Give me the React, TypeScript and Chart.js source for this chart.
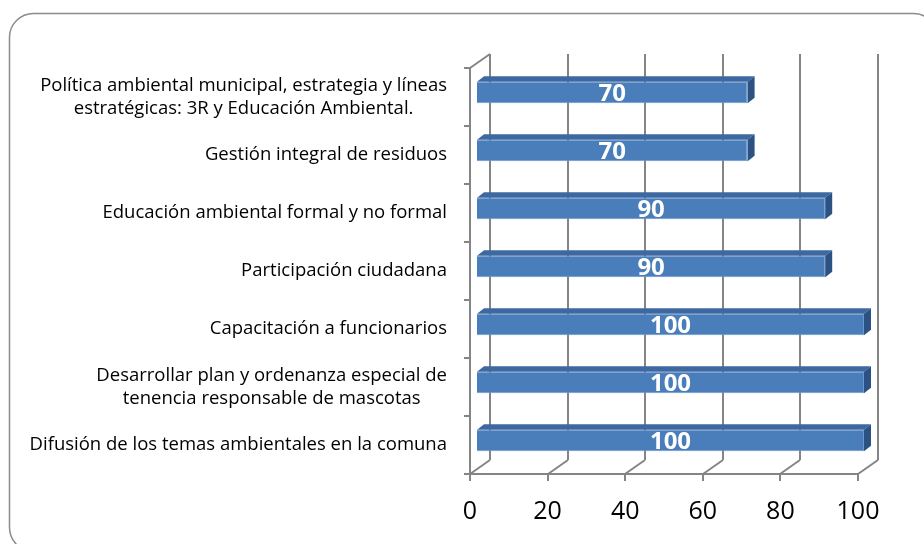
import React, { useEffect, useRef } from "react";
import { Chart, registerables } from "chart.js";

Chart.register(...registerables);

const categories: string[][] = [
  ["Política ambiental municipal, estrategia y líneas", "estratégicas: 3R y Educación Ambiental."],
  ["Gestión integral de residuos"],
  ["Educación ambiental formal y no formal"],
  ["Participación ciudadana"],
  ["Capacitación a funcionarios"],
  ["Desarrollar plan y ordenanza especial de", "tenencia responsable de mascotas"],
  ["Difusión de los temas ambientales en la comuna"],
];
const values: number[] = [70, 70, 90, 90, 100, 100, 100];
const xTicks: number[] = [0, 20, 40, 60, 80, 100];

const GRID = "#858585";
const FRONT = "#4a7ebb";
const TOP = "#3d68a0";
const SIDE = "#2c5283";
const WALL_DX = 20;
const WALL_DY = 14;
const BAR_SHIFT_X = 6;
const BAR_SHIFT_Y = -4.5;
const BAR_DX = 7;
const BAR_DY = 5.5;
const CAT_FONT = "18.5px 'Open Sans'";
const CAT_LINE = 23;
const CAT_RIGHT = 447;

const threeD = {
  id: "threeD",
  beforeDraw(chart: any) {
    const ctx = chart.ctx;
    ctx.save();
    ctx.fillStyle = "#ffffff";
    ctx.fillRect(0, 0, chart.width, chart.height);
    ctx.strokeStyle = "#8c8c8c";
    ctx.lineWidth = 1.5;
    ctx.beginPath();
    ctx.roundRect(9.5, 13.5, 928, 538, 24);
    ctx.stroke();
    ctx.restore();
  },
  beforeDatasetsDraw(chart: any) {
    const ctx = chart.ctx;
    const xs = chart.scales.x;
    const area = chart.chartArea;
    ctx.save();
    ctx.strokeStyle = GRID;
    ctx.lineWidth = 2;
    ctx.beginPath();
    xs.ticks.forEach((t: any) => {
      const px = Math.round(xs.getPixelForValue(t.value));
      ctx.moveTo(px + WALL_DX, area.top - WALL_DY);
      ctx.lineTo(px + WALL_DX, area.bottom - WALL_DY);
      ctx.moveTo(px, area.bottom);
      ctx.lineTo(px + WALL_DX, area.bottom - WALL_DY);
    });
    const x0 = xs.getPixelForValue(0);
    ctx.moveTo(x0, area.top);
    ctx.lineTo(x0 + WALL_DX, area.top - WALL_DY);
    ctx.stroke();
    ctx.restore();

    ctx.save();
    ctx.translate(BAR_SHIFT_X, BAR_SHIFT_Y);
  },
  afterDatasetsDraw(chart: any) {
    const ctx = chart.ctx;
    const meta = chart.getDatasetMeta(0);
    meta.data.forEach((el: any, i: number) => {
      const p = el.getProps(["x", "y", "base", "height"], true);
      const top = p.y - p.height / 2;
      const bottom = p.y + p.height / 2;
      const left = p.base;
      const right = p.x;
      ctx.fillStyle = TOP;
      ctx.beginPath();
      ctx.moveTo(left, top);
      ctx.lineTo(left + BAR_DX, top - BAR_DY);
      ctx.lineTo(right + BAR_DX, top - BAR_DY);
      ctx.lineTo(right, top);
      ctx.closePath();
      ctx.fill();
      ctx.fillStyle = SIDE;
      ctx.beginPath();
      ctx.moveTo(right, top);
      ctx.lineTo(right + BAR_DX, top - BAR_DY);
      ctx.lineTo(right + BAR_DX, bottom - BAR_DY);
      ctx.lineTo(right, bottom);
      ctx.closePath();
      ctx.fill();
      ctx.fillStyle = "#ffffff";
      ctx.font = "bold 24px 'Open Sans'";
      ctx.textAlign = "center";
      ctx.textBaseline = "middle";
      ctx.fillText(String(values[i]), (left + right) / 2, p.y + 1.5);
    });
    ctx.restore();

    const ys = chart.scales.y;
    ctx.save();
    ctx.font = CAT_FONT;
    ctx.fillStyle = "#000000";
    ctx.textBaseline = "middle";
    ctx.textAlign = "center";
    categories.forEach((lines, i) => {
      const cy = ys.getPixelForValue(i);
      const w = Math.max(...lines.map((l) => ctx.measureText(l).width));
      const cx = CAT_RIGHT - w / 2;
      const y0 = cy - ((lines.length - 1) * CAT_LINE) / 2;
      lines.forEach((l, j) => ctx.fillText(l, cx, y0 + j * CAT_LINE));
    });
    ctx.restore();
  },
};

export default function App() {
  const ref = useRef<HTMLCanvasElement | null>(null);
  useEffect(() => {
    if (!ref.current) return;
    const chart = new Chart(ref.current, {
      type: "bar",
      data: {
        labels: categories.map((c) => c.join(" ")),
        datasets: [
          {
            data: values,
            backgroundColor: FRONT,
            borderColor: "#6d98cf",
            borderWidth: 1,
            categoryPercentage: 1,
            barPercentage: 0.37,
          },
        ],
      },
      options: {
        indexAxis: "y",
        responsive: false,
        animation: false,
        layout: { padding: { left: 464, top: 68, right: 66, bottom: 0 } },
        plugins: { legend: { display: false }, tooltip: { enabled: false } },
        scales: {
          x: {
            min: 0,
            max: 100,
            afterBuildTicks: (s: any) => {
              s.ticks = xTicks.map((v) => ({ value: v }));
            },
            afterFit: (s: any) => {
              s.height = 70;
            },
            ticks: {
              font: { family: "'Open Sans'", size: 25 },
              color: "#000000",
              padding: 16,
              maxRotation: 0,
            },
            grid: { drawOnChartArea: false, drawTicks: true, tickLength: 7, color: GRID, lineWidth: 2 },
            border: { display: true, color: GRID, width: 2 },
          },
          y: {
            afterFit: (s: any) => {
              s.width = 6;
            },
            ticks: { display: false },
            grid: { drawOnChartArea: false, drawTicks: true, tickLength: 6, color: GRID, lineWidth: 2, offset: true },
            border: { display: true, color: GRID, width: 2 },
          },
        },
      },
      plugins: [threeD],
    });
    return () => chart.destroy();
  }, []);
  return (
    <div style={{ position: "fixed", left: 0, top: 0, width: 924, height: 544, background: "#fff" }}>
      <canvas ref={ref} width={924} height={544} style={{ width: 924, height: 544, display: "block" }} />
    </div>
  );
}
